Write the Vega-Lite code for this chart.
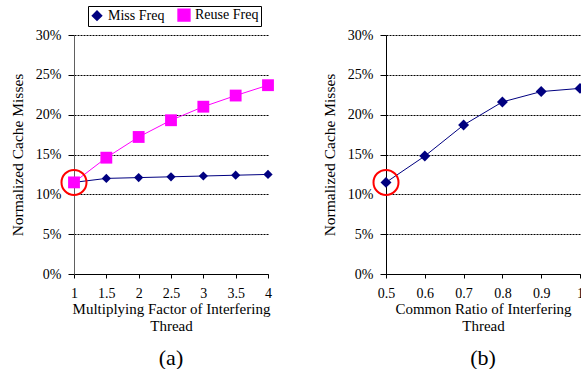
{
  "$schema": "https://vega.github.io/schema/vega-lite/v6.json",
  "padding": {"left": 10, "top": 5, "right": 0, "bottom": 0},
  "background": "white",
  "spacing": 48,
  "config": {
    "font": "Liberation Serif",
    "view": {"stroke": null},
    "axis": {
      "labelFont": "Liberation Serif", "titleFont": "Liberation Serif",
      "labelColor": "black", "titleColor": "black",
      "labelFontSize": 14, "titleFontSize": 15, "titleFontWeight": "normal",
      "domainColor": "black", "tickColor": "black",
      "gridColor": "black", "gridDash": [2, 1], "gridOpacity": 1
    },
    "legend": {"labelFont": "Liberation Serif", "labelFontSize": 14, "labelColor": "black"},
    "title": {"font": "Liberation Serif", "fontSize": 22, "fontWeight": "normal", "color": "black"}
  },
  "datasets": {
    "a": [
      {"factor": 1, "series": "Miss Freq", "value": 0.115},
      {"factor": 1.5, "series": "Miss Freq", "value": 0.120},
      {"factor": 2, "series": "Miss Freq", "value": 0.121},
      {"factor": 2.5, "series": "Miss Freq", "value": 0.122},
      {"factor": 3, "series": "Miss Freq", "value": 0.123},
      {"factor": 3.5, "series": "Miss Freq", "value": 0.124},
      {"factor": 4, "series": "Miss Freq", "value": 0.125},
      {"factor": 1, "series": "Reuse Freq", "value": 0.115},
      {"factor": 1.5, "series": "Reuse Freq", "value": 0.146},
      {"factor": 2, "series": "Reuse Freq", "value": 0.172},
      {"factor": 2.5, "series": "Reuse Freq", "value": 0.193},
      {"factor": 3, "series": "Reuse Freq", "value": 0.210},
      {"factor": 3.5, "series": "Reuse Freq", "value": 0.224},
      {"factor": 4, "series": "Reuse Freq", "value": 0.237}
    ],
    "b": [
      {"ratio": 0.5, "value": 0.115},
      {"ratio": 0.6, "value": 0.148},
      {"ratio": 0.7, "value": 0.187},
      {"ratio": 0.8, "value": 0.216},
      {"ratio": 0.9, "value": 0.229},
      {"ratio": 1.0, "value": 0.233}
    ],
    "ha": [{"factor": 1, "value": 0.115}],
    "hb": [{"ratio": 0.5, "value": 0.115}]
  },
  "hconcat": [
    {
      "width": 194, "height": 239,
      "title": {"text": "(a)", "orient": "bottom", "offset": 15},
      "encoding": {
        "x": {"field": "factor", "type": "quantitative",
          "scale": {"domain": [1, 4], "nice": false, "zero": false},
          "axis": {"values": [1, 1.5, 2, 2.5, 3, 3.5, 4], "format": "~g", "grid": false, "tickSize": 4, "labelPadding": 8,
                   "labelFlush": false, "domainColor": "black",
                   "title": ["Multiplying Factor of Interfering", "Thread"], "titlePadding": 1}},
        "y": {"field": "value", "type": "quantitative",
          "scale": {"domain": [0, 0.3], "nice": false},
          "axis": {"values": [0, 0.05, 0.1, 0.15, 0.2, 0.25, 0.3], "format": ".0%", "tickSize": 6,
                   "labelPadding": 7, "domainColor": "#606060", "titleFontSize": 15.5,
                   "title": "Normalized Cache Misses", "titlePadding": 10}}
      },
      "layer": [
        {"data": {"name": "a"}, "mark": {"type": "line", "strokeWidth": 1},
          "encoding": {"color": {"field": "series", "type": "nominal",
            "scale": {"domain": ["Miss Freq", "Reuse Freq"], "range": ["#000080", "#FF00FF"]}}}},
        {"data": {"name": "a"}, "mark": {"type": "point", "filled": true, "opacity": 1},
          "encoding": {
            "color": {"field": "series", "type": "nominal",
              "scale": {"domain": ["Miss Freq", "Reuse Freq"], "range": ["#000080", "#FF00FF"]},
              "legend": {"orient": "none", "legendX": 14, "legendY": -29, "direction": "horizontal",
                "title": null, "strokeColor": "black", "padding": 2, "columnPadding": 10, "labelOffset": 4}},
            "shape": {"field": "series", "type": "nominal",
              "scale": {"domain": ["Miss Freq", "Reuse Freq"], "range": ["diamond", "square"]}},
            "size": {"field": "series", "type": "nominal",
              "scale": {"domain": ["Miss Freq", "Reuse Freq"], "range": [85, 140]}}
          }},
        {"data": {"name": "ha"}, "mark": {"type": "point", "shape": "circle", "filled": false, "color": "red", "size": 625, "strokeWidth": 2, "opacity": 1}}
      ]
    },
    {
      "width": 194, "height": 239,
      "title": {"text": "(b)", "orient": "bottom", "offset": 15},
      "encoding": {
        "x": {"field": "ratio", "type": "quantitative",
          "scale": {"domain": [0.5, 1], "nice": false, "zero": false},
          "axis": {"values": [0.5, 0.6, 0.7, 0.8, 0.9, 1], "format": "~g", "grid": false, "tickSize": 4, "labelPadding": 8,
                   "labelFlush": false,
                   "title": ["Common Ratio of Interfering", "Thread"], "titlePadding": 1}},
        "y": {"field": "value", "type": "quantitative",
          "scale": {"domain": [0, 0.3], "nice": false},
          "axis": {"values": [0, 0.05, 0.1, 0.15, 0.2, 0.25, 0.3], "format": ".0%", "tickSize": 6,
                   "labelPadding": 7, "titleFontSize": 15.5,
                   "title": "Normalized Cache Misses", "titlePadding": 10}}
      },
      "layer": [
        {"data": {"name": "b"}, "mark": {"type": "line", "strokeWidth": 1, "color": "#000080"}, "encoding": {}},
        {"data": {"name": "b"}, "mark": {"type": "point", "shape": "diamond", "filled": true, "opacity": 1, "color": "#000080", "size": 120}, "encoding": {}},
        {"data": {"name": "hb"}, "mark": {"type": "point", "shape": "circle", "filled": false, "color": "red", "size": 625, "strokeWidth": 2, "opacity": 1}, "encoding": {}}
      ]
    }
  ]
}
